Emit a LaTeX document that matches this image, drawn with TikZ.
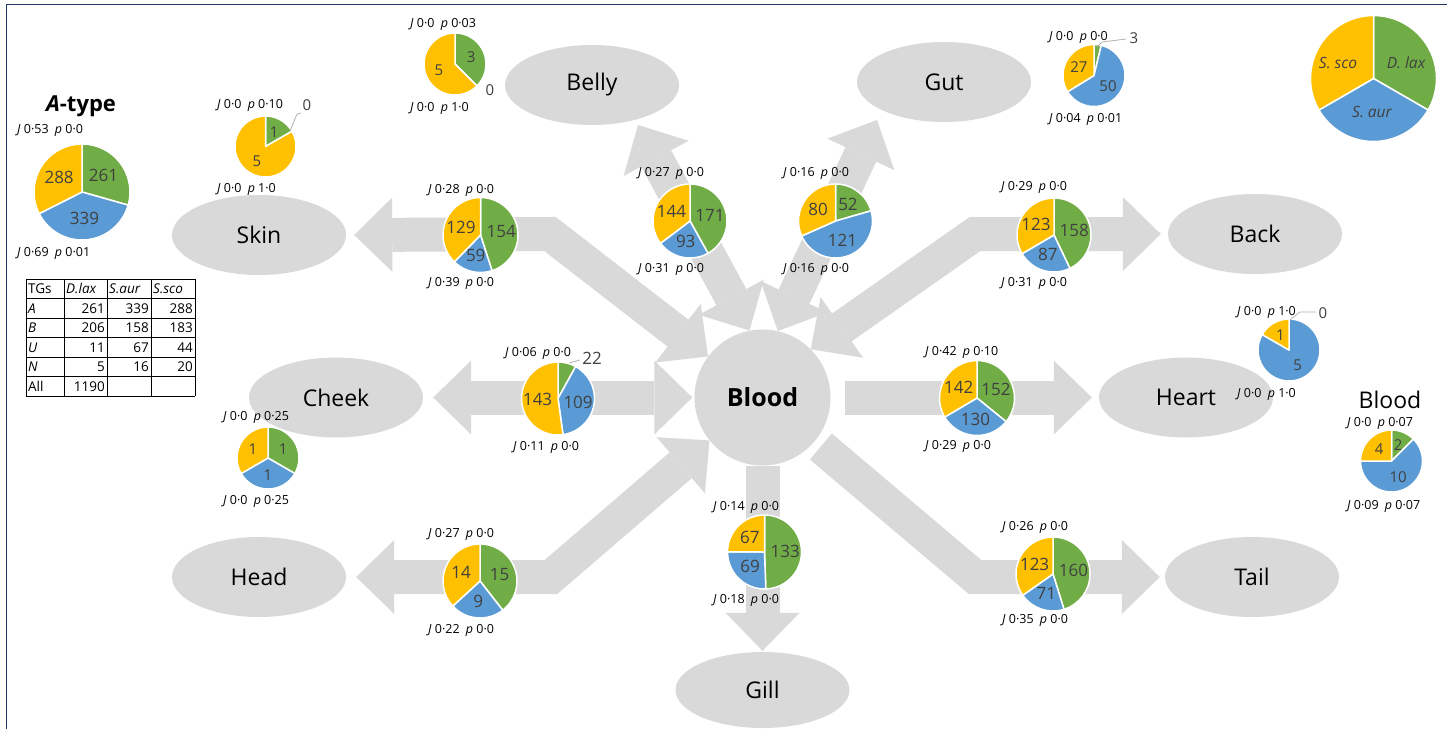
\documentclass[tikz,border=0pt]{standalone}
\usepackage{fontspec}
\setmainfont{Open Sans}
\usetikzlibrary{shapes.geometric,arrows.meta}

\definecolor{pgreen}{HTML}{70AD47}
\definecolor{pblue}{HTML}{5B9BD5}
\definecolor{pyellow}{HTML}{FFC000}
\definecolor{shapegray}{HTML}{D9D9D9}
\definecolor{numgray}{HTML}{404040}
\definecolor{framenavy}{HTML}{1F3864}

% J / p annotation of a pie
\newcommand\jp[2]{\textit{J}\ #1\enspace\textit{p}\ #2}

% one slice: centre x, centre y, radius, from angle, to angle, colour, value
\newcommand\pieslice[7]{%
  \ifdim #7pt>0pt
    \fill[#6, draw=white, line width=1.5pt, line join=round]
      (#1,#2) -- ++(#4:#3) arc[start angle=#4, end angle=#5, radius=#3] -- cycle;
    \pgfmathsetmacro\pfrac{#7/\ptot}%
    \ifdim\pfrac pt>0.095pt
      \pgfmathsetmacro\pmid{(#4+#5)/2}%
      \node[pienum, font=\fontsize{\piefs}{\piefs}\selectfont]
        at ([shift={(\pmid:{0.56*#3})}]#1,#2) {#7};
    \fi
  \fi}

% pie of the three species, clockwise from twelve o'clock:
% centre x, centre y, radius, D.lax, S.aur, S.sco, label size
\newcommand\piediag[7]{%
  \def\piefs{#7}%
  \pgfmathsetmacro\ptot{#4+#5+#6}%
  \pgfmathsetmacro\pa{-90}%
  \pgfmathsetmacro\pb{-90+360*(#4/\ptot)}%
  \pgfmathsetmacro\pc{-90+360*((#4+#5)/\ptot)}%
  \pieslice{#1}{#2}{#3}{\pa}{\pb}{pgreen}{#4}%
  \pieslice{#1}{#2}{#3}{\pb}{\pc}{pblue}{#5}%
  \pieslice{#1}{#2}{#3}{\pc}{270}{pyellow}{#6}%
}

\begin{document}
\begin{tikzpicture}[x=1pt,y=-1pt,
  organ/.style={ellipse, fill=shapegray, minimum width=174pt, minimum height=80pt,
    inner sep=0pt, font=\fontsize{23}{27}\selectfont},
  bloodc/.style={circle, fill=shapegray, minimum size=136pt, inner sep=0pt,
    font=\fontsize{25}{29}\selectfont\bfseries},
  band/.style={draw=shapegray, line width=34pt, line join=miter,
    >={Triangle[length=38pt,width=74pt,line width=0pt]}},
  jplab/.style={anchor=west, inner sep=0pt, font=\fontsize{12.5}{15}\selectfont},
  pienum/.style={inner sep=0pt, text=numgray},
  zerolab/.style={inner sep=0pt, text=numgray, font=\fontsize{15}{15}\selectfont},
  leader/.style={draw=gray!60, line width=0.8pt},
  tabline/.style={draw=black, line width=0.8pt},
  tabtxt/.style={inner sep=0pt, font=\fontsize{13.5}{16}\selectfont},
]
\useasboundingbox (0,0) rectangle (1447,729);
\fill[white] (0,0) rectangle (1447,729);
\draw[framenavy, line width=1.5pt] (6.5,729) -- (6.5,4.5) -- (1447,4.5);

% body sites
\node[organ] (belly) at (592,85) {Belly};
\node[organ] (gut) at (944,82) {Gut};
\node[organ] (skin) at (259,235) {Skin};
\node[organ] (back) at (1255,234) {Back};
\node[organ] (cheek) at (336,397.5) {Cheek};
\node[organ] (heart) at (1186,397.5) {Heart};
\node[organ] (head) at (259,577) {Head};
\node[organ] (tail) at (1252,577) {Tail};
\node[organ, minimum height=76pt] (gill) at (762.5,690) {Gill};
\node[bloodc] (blood) at (762.5,397.5) {Blood};

% block arrows
\coordinate (skinbend) at (550,234);
\coordinate (headbend) at (551,577);
\coordinate (backbend) at (975,234);
\coordinate (tailbend) at (975,577);
\coordinate (bellytip) at (638,125);
\coordinate (guttip) at (877,120);
\draw[band,<->] ([xshift=8pt]skin.east) -- (skinbend) -- (blood.143);
\draw[band,<->] (bellytip) -- (blood.101);
\draw[band,<->] (blood.77) -- (guttip);
\draw[band,<->] ([xshift=-7pt]back.west) -- (backbend) -- (blood.45);
\draw[band,<->] ([xshift=10pt]cheek.east) -- ([xshift=-2pt]blood.west);
\draw[band,->] ([xshift=14pt]blood.east) -- ([xshift=-7pt]heart.west);
\draw[band,<->] ([xshift=10pt]head.east) -- (headbend) -- (blood.219);
\draw[band,->] (blood.south) -- ([yshift=1pt]gill.north);
\draw[band,->,shorten <=8pt] (blood.-40) -- (tailbend) -- ([xshift=-5pt]tail.west);

% pies
\piediag{82}{192}{48}{261}{339}{288}{17}
\piediag{265.5}{146.5}{30.5}{1}{0}{5}{15}
\piediag{455}{64}{31}{3}{0}{5}{15}
\piediag{1094}{75.5}{31}{3}{50}{27}{15}
\piediag{480.5}{235}{37.5}{154}{59}{129}{17}
\piediag{690}{221}{37}{171}{93}{144}{17}
\piediag{835.5}{221}{37}{52}{121}{80}{17}
\piediag{1054}{235}{37}{158}{87}{123}{17}
\piediag{558}{398.5}{36.5}{22}{109}{143}{17}
\piediag{977}{398}{37.5}{152}{130}{142}{17}
\piediag{1289}{350}{31}{0}{5}{1}{15}
\piediag{1391.5}{461}{31}{2}{10}{4}{15}
\piediag{268}{458}{31}{1}{1}{1}{15}
\piediag{480}{581}{37}{15}{9}{14}{17}
\piediag{764.5}{552}{37}{133}{69}{67}{17}
\piediag{1053}{574}{37}{160}{71}{123}{17}

% labels of small slices
\draw[leader] (290,131) -- (297,114) -- (301,113);
\node[zerolab] (skinzero) at (307,105) {0};
\node[zerolab] (bellyzero) at (490,90) {0};
\draw[leader] (1097,47) -- (1102,42) -- (1126,39);
\node[zerolab] (gutthree) at (1134,38) {3};
\draw[leader] (569,363) -- (580,360);
\node[pienum, font=\fontsize{17}{17}\selectfont] (cheekgreen) at (592,358) {22};
\draw[leader] (1290,320) -- (1300,312) -- (1316,312);
\node[zerolab] (heartzero) at (1323,313) {0};

% legend pie
\fill[pgreen, draw=white, line width=1.5pt] (1373.5,78.5) -- ++(-90:63) arc[start angle=-90, end angle=30, radius=63] -- cycle;
\fill[pblue, draw=white, line width=1.5pt] (1373.5,78.5) -- ++(30:63) arc[start angle=30, end angle=150, radius=63] -- cycle;
\fill[pyellow, draw=white, line width=1.5pt] (1373.5,78.5) -- ++(150:63) arc[start angle=150, end angle=270, radius=63] -- cycle;
\node[pienum, font=\fontsize{15.5}{18}\selectfont\itshape] (legsco) at (1338,63) {S. sco};
\node[pienum, font=\fontsize{15.5}{18}\selectfont\itshape] (leglax) at (1406,63) {D. lax};
\node[pienum, font=\fontsize{15.5}{18}\selectfont\itshape] (legaur) at (1372,112) {S. aur};

% titles
\node[font=\fontsize{22}{26}\selectfont\bfseries] (atitle) at (81,106) {\textit{A}-type};
\node[font=\fontsize{23}{27}\selectfont] (bloodtitle) at (1390,400) {Blood};

% J and p values
\node[jplab] (jA1) at (17,130) {\jp{0·53}{0·0}};
\node[jplab] (jA2) at (17,253) {\jp{0·69}{0·01}};
\node[jplab] (jS1) at (217,105) {\jp{0·0}{0·10}};
\node[jplab] (jS2) at (217,189) {\jp{0·0}{1·0}};
\node[jplab] (jB1) at (410,24) {\jp{0·0}{0·03}};
\node[jplab] (jB2) at (410,108) {\jp{0·0}{1·0}};
\node[jplab] (jG1) at (1049,37) {\jp{0·0}{0·0}};
\node[jplab] (jG2) at (1049,119) {\jp{0·04}{0·01}};
\node[jplab] (jSk1) at (428,190) {\jp{0·28}{0·0}};
\node[jplab] (jSk2) at (428,283) {\jp{0·39}{0·0}};
\node[jplab] (jBe1) at (638,173) {\jp{0·27}{0·0}};
\node[jplab] (jBe2) at (638,269) {\jp{0·31}{0·0}};
\node[jplab] (jGu1) at (783,173) {\jp{0·16}{0·0}};
\node[jplab] (jGu2) at (783,269) {\jp{0·16}{0·0}};
\node[jplab] (jBa1) at (1001,187) {\jp{0·29}{0·0}};
\node[jplab] (jBa2) at (1001,283) {\jp{0·31}{0·0}};
\node[jplab] (jCh1) at (505,353) {\jp{0·06}{0·0}};
\node[jplab] (jCh2) at (513,447) {\jp{0·11}{0·0}};
\node[jplab] (jHe1) at (925,352) {\jp{0·42}{0·10}};
\node[jplab] (jHe2) at (925,446) {\jp{0·29}{0·0}};
\node[jplab] (jHs1) at (1237,312) {\jp{0·0}{1·0}};
\node[jplab] (jHs2) at (1237,394) {\jp{0·0}{1·0}};
\node[jplab] (jBl1) at (1347,423) {\jp{0·0}{0·07}};
\node[jplab] (jBl2) at (1347,506) {\jp{0·09}{0·07}};
\node[jplab] (jCs1) at (223,417) {\jp{0·0}{0·25}};
\node[jplab] (jCs2) at (223,501) {\jp{0·0}{0·25}};
\node[jplab] (jHd1) at (428,534) {\jp{0·27}{0·0}};
\node[jplab] (jHd2) at (428,630) {\jp{0·22}{0·0}};
\node[jplab] (jGi1) at (713,507) {\jp{0·14}{0·0}};
\node[jplab] (jGi2) at (713,600) {\jp{0·18}{0·0}};
\node[jplab] (jTa1) at (1002,527) {\jp{0·26}{0·0}};
\node[jplab] (jTa2) at (1002,620) {\jp{0·35}{0·0}};

% table of type counts
\foreach \yy in {279,298.5,318,337.5,357,376.5,396}
  \draw[tabline] (26,\yy) -- (195,\yy);
\foreach \xx in {26,64,107,151,195}
  \draw[tabline] (\xx,279) -- (\xx,396);
\node[tabtxt, anchor=west] (tgs) at (28,288.75) {TGs};
\node[tabtxt, anchor=west] (hlax) at (66,288.75) {\itshape D.lax};
\node[tabtxt, anchor=west] (haur) at (109,288.75) {\itshape S.aur};
\node[tabtxt, anchor=west] (hsco) at (153,288.75) {\itshape S.sco};
\foreach \nm/\yy/\va/\vb/\vc in {A/308.25/261/339/288, B/327.75/206/158/183,
    U/347.25/11/67/44, N/366.75/5/16/20}{
  \node[tabtxt, anchor=west] (row\nm) at (28,\yy) {\itshape\nm};
  \node[tabtxt, anchor=east] (row\nm lax) at (105,\yy) {\va};
  \node[tabtxt, anchor=east] (row\nm aur) at (149,\yy) {\vb};
  \node[tabtxt, anchor=east] (row\nm sco) at (193,\yy) {\vc};
}
\node[tabtxt, anchor=west] (rowall) at (28,386.25) {All};
\node[tabtxt, anchor=east] (rowalln) at (105,386.25) {1190};
\end{tikzpicture}
\end{document}
